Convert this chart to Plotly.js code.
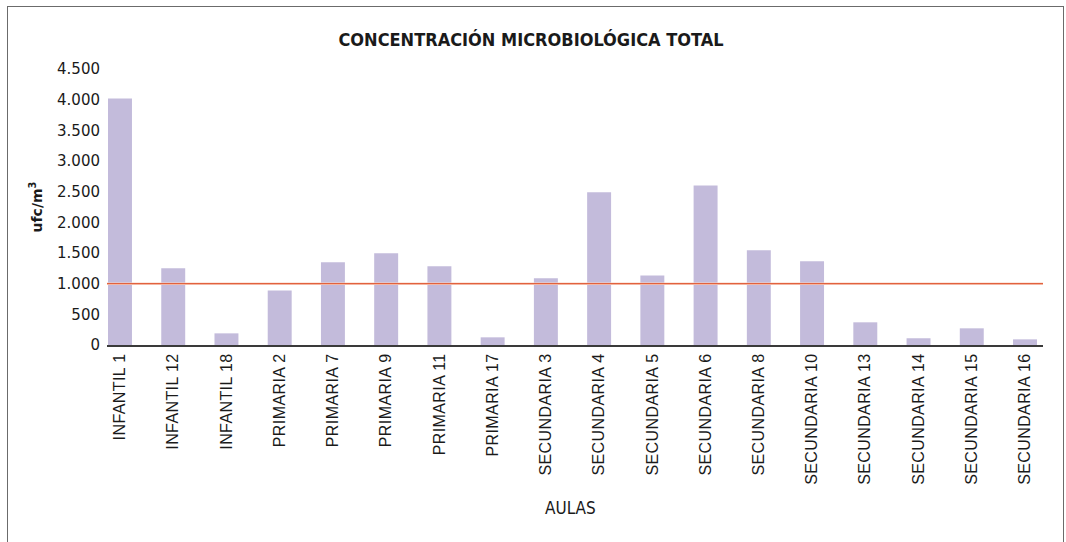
<!DOCTYPE html>
<html>
<head>
<meta charset="utf-8">
<script src="https://cdn.plot.ly/plotly-3.0.1.min.js"></script>
<style>
html,body{margin:0;padding:0;background:#fff;}
#wrap{position:relative;width:1066px;height:542px;}
#chart{width:1066px;height:542px;}
#frame{position:absolute;left:7px;top:6px;width:1055px;height:545px;border:1.5px solid #6b6b6b;pointer-events:none;}
.xtick text{letter-spacing:0.4px;}
</style>
</head>
<body>
<div id="wrap"><div id="chart"></div><div id="frame"></div></div>
<script>
const aulas = ["INFANTIL 1","INFANTIL 12","INFANTIL 18","PRIMARIA 2","PRIMARIA 7","PRIMARIA 9","PRIMARIA 11","PRIMARIA 17","SECUNDARIA 3","SECUNDARIA 4","SECUNDARIA 5","SECUNDARIA 6","SECUNDARIA 8","SECUNDARIA 10","SECUNDARIA 13","SECUNDARIA 14","SECUNDARIA 15","SECUNDARIA 16"];
const concentracion = [4020,1250,190,890,1350,1495,1285,125,1090,2490,1135,2600,1545,1365,370,110,272,92];
const limite = 1000;
const yTicks = [0,500,1000,1500,2000,2500,3000,3500,4000,4500];

const traces = [{
  type:'bar', x:aulas, y:concentracion,
  marker:{color:'#c3bbdb'}, hoverinfo:'x+y'
}];

const layout = {
  width:1066, height:542,
  margin:{l:107,r:23,t:69,b:197},
  paper_bgcolor:'#fff', plot_bgcolor:'#fff',
  separators:',.',
  showlegend:false,
  bargap:0.55,
  title:{text:'<b>CONCENTRACIÓN MICROBIOLÓGICA TOTAL</b>', x:531/1066, xanchor:'center', xref:'container', y:0.927, yanchor:'middle',
    font:{family:'DejaVu Sans Condensed, sans-serif', size:18, color:'#1a1a1a'}},
  xaxis:{
    type:'category', range:[-0.244,17.338], tickangle:-90, showgrid:false, zeroline:false,
    showline:true, linecolor:'#3a3a3a', linewidth:2, ticks:'', ticklen:0,
    tickfont:{family:'Liberation Sans, Arial, sans-serif', size:16, color:'#1a1a1a'}
  },
  yaxis:{
    range:[0,4500], tickvals:yTicks, tickformat:',d', showgrid:false, zeroline:false,
    showline:false, ticks:'', ticklabelstandoff:6,
    tickfont:{family:'DejaVu Sans, sans-serif', size:15, color:'#1a1a1a'},
    title:{text:'<b>ufc/m<sup>3</sup></b>', standoff:11, font:{family:'DejaVu Sans, sans-serif', size:14, color:'#1a1a1a'}}
  },
  annotations:[
    {text:'AULAS', xref:'paper', yref:'paper', x:(570-107)/936, y:(345-508)/276, xanchor:'center', yanchor:'middle', showarrow:false,
     font:{family:'DejaVu Sans Condensed, sans-serif', size:17, color:'#1a1a1a'}}
  ],
  shapes:[
    {type:'line', xref:'paper', x0:0, x1:1, yref:'y', y0:limite, y1:limite, line:{color:'#f8d3c6', width:2.5}, layer:'above'},
    {type:'line', xref:'paper', x0:0, x1:1, yref:'y', y0:limite, y1:limite, line:{color:'#e2623e', width:1.2}, layer:'above'}
  ]
};

Plotly.newPlot('chart', traces, layout, {displayModeBar:false, staticPlot:true});
</script>
</body>
</html>
